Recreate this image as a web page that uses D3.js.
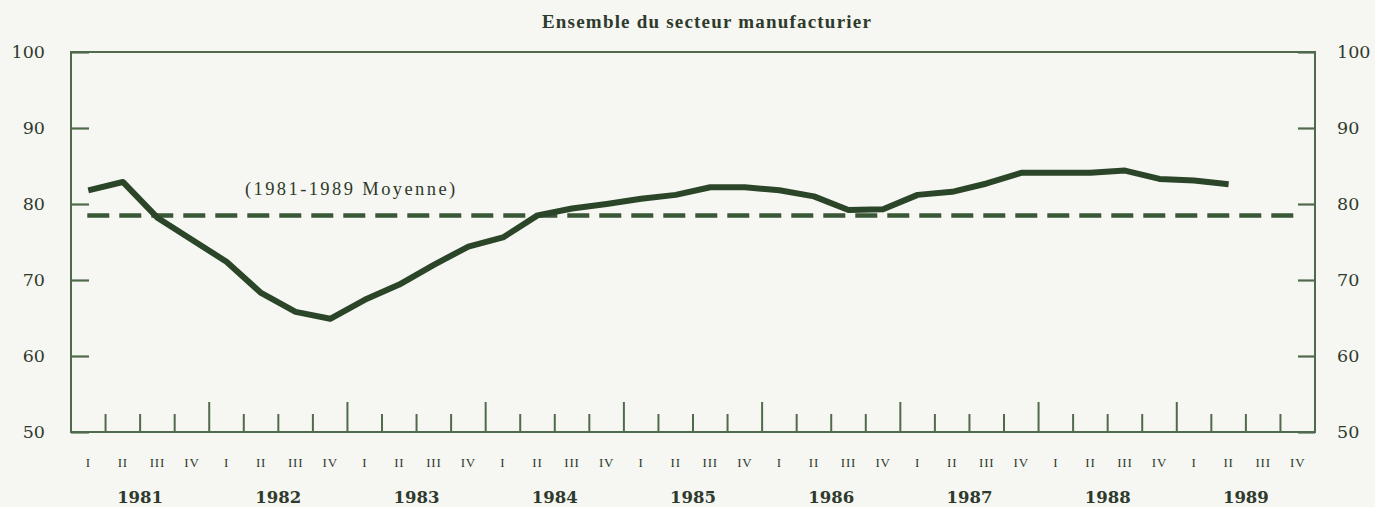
<!DOCTYPE html>
<html>
<head>
<meta charset="utf-8">
<script src="https://cdn.jsdelivr.net/npm/d3@7"></script>
<style>
  html, body { margin: 0; padding: 0; background: #f6f6f2; }
  svg { display: block; }
</style>
</head>
<body>
<svg id="chart" width="1375" height="507"></svg>
<script>
// ---- Data ----
const years = ["1981","1982","1983","1984","1985","1986","1987","1988","1989"];
const quarterLabels = ["I","II","III","IV"];
const values = [
  81.8, 82.9, 78.2, 75.3,
  72.4, 68.3, 65.8, 64.9,
  67.4, 69.4, 72.0, 74.4,
  75.6, 78.5, 79.4, 80.0,
  80.7, 81.2, 82.2, 82.2,
  81.8, 81.0, 79.2, 79.3,
  81.2, 81.6, 82.7, 84.1,
  84.1, 84.1, 84.4, 83.3,
  83.1, 82.6
];
const average = 78.5;
const yTicks = [50, 60, 70, 80, 90, 100];
const title = "Ensemble du secteur manufacturier";
const avgLabel = "(1981-1989 Moyenne)";

// ---- Build quarter ids ----
const quarters = [];
years.forEach(y => quarterLabels.forEach(q => quarters.push({ id: y + "-" + q, year: y, q })));

const svg = d3.select("#chart");
const L = 71, R = 1315, T = 52, B = 432;
const frameColor = "#4f6b4b";
const lineColor = "#2b4528";
const textColor = "#2e3a2c";

const x = d3.scaleBand().domain(quarters.map(d => d.id)).range([L, R]).padding(0);
const y = d3.scaleLinear().domain([50, 100]).range([B, T]);

// Title
svg.append("text")
  .attr("x", 707).attr("y", 28)
  .attr("text-anchor", "middle")
  .attr("font-family", "Liberation Serif")
  .attr("font-weight", "bold")
  .attr("font-size", 19)
  .attr("letter-spacing", 1.2)
  .attr("fill", textColor)
  .text(title);

// Frame
svg.append("rect")
  .attr("x", L).attr("y", T)
  .attr("width", R - L).attr("height", B - T)
  .attr("fill", "none")
  .attr("stroke", frameColor)
  .attr("stroke-width", 2);

// Left axis
const leftAxis = d3.axisLeft(y).tickValues(yTicks).tickSizeInner(-18).tickSizeOuter(0).tickPadding(26);
const gl = svg.append("g").attr("transform", `translate(${L},0)`).call(leftAxis);
// Right axis
const rightAxis = d3.axisRight(y).tickValues(yTicks).tickSizeInner(-17).tickSizeOuter(0).tickPadding(22);
const gr = svg.append("g").attr("transform", `translate(${R},0)`).call(rightAxis);

[gl, gr].forEach(g => {
  g.select(".domain").remove();
  g.selectAll(".tick line").attr("stroke", frameColor).attr("stroke-width", 2.2);
  g.selectAll(".tick text")
    .attr("font-family", "DejaVu Serif")
    .attr("font-size", 17.5)
    .attr("fill", textColor);
});

// Bottom quarter ticks (boundaries between quarters)
const tickIdx = d3.range(1, quarters.length);
svg.append("g").selectAll("line")
  .data(tickIdx)
  .join("line")
  .attr("x1", i => x(quarters[i].id))
  .attr("x2", i => x(quarters[i].id))
  .attr("y1", B)
  .attr("y2", i => (i % 4 === 0 ? B - 30 : B - 18))
  .attr("stroke", frameColor)
  .attr("stroke-width", 2);

// Quarter labels
svg.append("g").selectAll("text")
  .data(quarters)
  .join("text")
  .attr("x", d => x(d.id) + x.bandwidth() / 2)
  .attr("y", 467)
  .attr("text-anchor", "middle")
  .attr("font-family", "Liberation Serif")
  .attr("font-size", 13)
  .attr("letter-spacing", 0.8)
  .attr("fill", textColor)
  .text(d => d.q);

// Year labels
svg.append("g").selectAll("text")
  .data(years)
  .join("text")
  .attr("x", yr => (x(yr + "-I") + x(yr + "-IV") + x.bandwidth()) / 2)
  .attr("y", 503)
  .attr("text-anchor", "middle")
  .attr("font-family", "DejaVu Serif")
  .attr("font-weight", "bold")
  .attr("font-size", 16.5)
  .attr("fill", textColor)
  .text(yr => yr);

// Average dashed line
svg.append("line")
  .attr("x1", x(quarters[0].id) + x.bandwidth() / 2 - 1)
  .attr("x2", x(quarters[quarters.length - 1].id) + x.bandwidth() / 2 - 4)
  .attr("y1", y(average)).attr("y2", y(average))
  .attr("stroke", "#3a5736")
  .attr("stroke-width", 4.5)
  .attr("stroke-dasharray", "22 10");

// Average label
svg.append("text")
  .attr("x", 245).attr("y", 195)
  .attr("font-family", "Liberation Serif")
  .attr("font-size", 18.5)
  .attr("letter-spacing", 2.4)
  .attr("fill", textColor)
  .text(avgLabel);

// Series line
const pts = values.map((v, i) => ({ id: quarters[i].id, v }));
svg.append("path")
  .datum(pts)
  .attr("fill", "none")
  .attr("stroke", lineColor)
  .attr("stroke-width", 6)
  .attr("stroke-linejoin", "round")
  .attr("stroke-linecap", "butt")
  .attr("d", d3.line().x(d => x(d.id) + x.bandwidth() / 2).y(d => y(d.v)));
</script>
</body>
</html>
